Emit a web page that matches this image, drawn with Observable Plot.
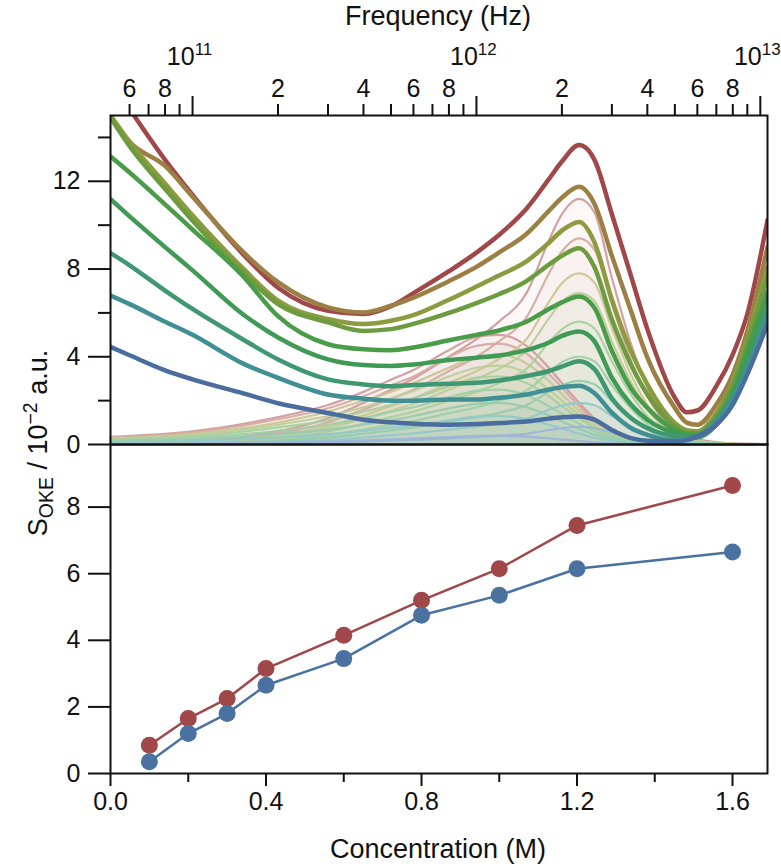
<!DOCTYPE html>
<html><head><meta charset="utf-8">
<script src="https://cdn.jsdelivr.net/npm/d3@7"></script>
<script src="https://cdn.jsdelivr.net/npm/@observablehq/plot@0.6"></script>
<style>
body{margin:0;background:#fff;}
#wrap{position:relative;width:781px;height:868px;font-family:"Liberation Sans",Arial,Helvetica,sans-serif;color:#111;overflow:hidden;}
#topc,#botc{position:absolute;left:0;}
#topc{top:0}
#botc{top:444px}
.lbl{position:absolute;font-size:27px;white-space:nowrap;transform:translate(-50%,-50%);}
#ytitle{transform:translate(-50%,-50%) rotate(-90deg);}
#ytitle sub,#ytitle sup{font-size:0.72em;line-height:0;}
</style></head><body>
<div id="wrap">
  <div id="topc"></div>
  <div id="botc"></div>
  <div class="lbl" style="left:438px;top:16px">Frequency (Hz)</div>
  <div class="lbl" style="left:438px;top:849px">Concentration (M)</div>
  <div class="lbl" id="ytitle" style="left:38px;top:443px">S<sub>OKE</sub> / 10<sup>−2</sup> a.u.</div>
</div>
<script>
// ---------- DATA ----------
const concLabels = ["0.1","0.2","0.3","0.4","0.6","0.8","1.0","1.2","1.6"];

// frequency grid (Hz) for the measured spectra
const freqGrid = [5.14e10, 6e10, 8e10, 1e11, 1.5e11, 2e11, 3e11, 4e11, 5e11, 6e11, 8e11, 1e12, 1.2e12, 1.5e12, 1.8e12, 2e12, 2.3e12, 2.6e12, 3e12, 3.5e12, 4e12, 5e12, 5.5e12, 6e12, 7e12, 8e12, 9e12, 1.06e13];

const spec_01 = [4.45, 4.07, 3.38, 2.97, 2.34, 1.88, 1.44, 1.13, 1.01, 0.95, 0.9, 0.93, 0.98, 1.05, 1.18, 1.24, 1.28, 1.13, 0.66, 0.29, 0.17, 0.14, 0.2, 0.37, 0.9, 1.82, 3.2, 5.5];
const spec_02 = [6.79, 6.4, 5.6, 5.0, 3.7, 3.04, 2.28, 2.09, 2.0, 2.0, 2.05, 2.05, 2.13, 2.28, 2.51, 2.61, 2.68, 2.35, 1.45, 0.75, 0.44, 0.21, 0.25, 0.37, 1.06, 2.13, 3.5, 5.8];
const spec_03 = [8.73, 8.17, 7.02, 6.18, 4.8, 3.88, 2.97, 2.74, 2.66, 2.71, 2.77, 2.81, 2.92, 3.12, 3.35, 3.55, 3.8, 3.45, 2.1, 1.21, 0.75, 0.37, 0.32, 0.32, 0.9, 2.05, 3.58, 6.25];
const spec_04 = [11.18, 10.4, 9.0, 7.94, 5.95, 4.88, 3.88, 3.62, 3.58, 3.65, 3.85, 3.96, 4.06, 4.3, 4.65, 4.95, 5.15, 4.72, 3.05, 1.82, 1.13, 0.52, 0.4, 0.37, 0.98, 2.2, 3.96, 6.71];
const spec_06 = [13.13, 12.4, 10.95, 9.8, 7.7, 5.85, 4.57, 4.34, 4.3, 4.42, 4.75, 5.0, 5.2, 5.6, 6.18, 6.48, 6.75, 6.25, 4.27, 2.58, 1.67, 0.67, 0.47, 0.44, 1.13, 2.43, 4.27, 6.94];
const spec_08 = [14.9, 13.6, 11.65, 10.2, 7.85, 6.4, 5.57, 5.18, 5.26, 5.5, 6.0, 6.45, 6.85, 7.45, 8.2, 8.6, 8.95, 8.1, 5.7, 3.65, 2.28, 0.83, 0.55, 0.52, 1.28, 2.66, 4.57, 7.63];
const spec_10 = [15.0, 13.8, 11.9, 10.45, 8.05, 6.56, 5.72, 5.49, 5.64, 5.9, 6.6, 7.2, 7.7, 8.35, 9.2, 9.75, 10.15, 9.24, 6.6, 4.27, 2.74, 0.98, 0.65, 0.6, 1.44, 2.89, 4.88, 8.09];
const spec_12 = [15.0, 13.8, 12.7, 11.3, 8.8, 7.4, 6.25, 6.02, 6.33, 6.7, 7.45, 8.1, 8.75, 9.6, 10.65, 11.25, 11.75, 10.99, 8.6, 6.1, 3.96, 1.67, 1.0, 0.9, 1.82, 3.2, 5.18, 9.0];
const spec_16 = [16.6, 15.3, 12.98, 11.38, 8.7, 7.15, 6.1, 5.95, 6.3, 6.9, 7.9, 8.75, 9.55, 10.75, 12.1, 12.9, 13.65, 13.0, 10.5, 7.7, 5.26, 2.13, 1.47, 1.55, 2.66, 4.11, 5.95, 10.23];

// frequency grid (Hz) for the fitted components
const compGrid = [5.14e10, 1e11, 2e11, 3e11, 4e11, 5e11, 6e11, 8e11, 1e12, 1.2e12, 1.5e12, 1.8e12, 2e12, 2.3e12, 2.6e12, 3e12, 3.5e12, 4e12, 5e12, 6e12, 8e12, 1.06e13];

// low-frequency components
const low_01 = [0.03, 0.05, 0.1, 0.14, 0.19, 0.24, 0.27, 0.34, 0.39, 0.4, 0.36, 0.28, 0.22, 0.15, 0.1, 0.05, 0.02, 0.01, 0, 0, 0, 0];
const low_02 = [0.09, 0.16, 0.33, 0.47, 0.62, 0.77, 0.88, 1.1, 1.27, 1.3, 1.17, 0.9, 0.73, 0.5, 0.31, 0.17, 0.08, 0.04, 0.01, 0, 0, 0];
const low_03 = [0.13, 0.23, 0.48, 0.68, 0.9, 1.1, 1.3, 1.65, 1.85, 1.9, 1.7, 1.33, 1.05, 0.72, 0.45, 0.25, 0.11, 0.06, 0.02, 0.01, 0, 0];
const low_04 = [0.18, 0.3, 0.62, 0.9, 1.2, 1.48, 1.7, 2.15, 2.45, 2.5, 2.25, 1.75, 1.4, 0.95, 0.6, 0.33, 0.15, 0.08, 0.03, 0.01, 0, 0];
const low_06 = [0.22, 0.37, 0.78, 1.1, 1.5, 1.8, 2.1, 2.65, 3.05, 3.1, 2.8, 2.2, 1.75, 1.2, 0.75, 0.4, 0.19, 0.09, 0.03, 0.01, 0, 0];
const low_08 = [0.25, 0.43, 0.9, 1.3, 1.7, 2.1, 2.45, 3.1, 3.5, 3.6, 3.25, 2.5, 2.0, 1.35, 0.85, 0.47, 0.22, 0.11, 0.04, 0.01, 0, 0];
const low_10 = [0.29, 0.49, 1.0, 1.5, 2.0, 2.4, 2.8, 3.5, 4.0, 4.1, 3.7, 2.9, 2.3, 1.55, 1.0, 0.53, 0.25, 0.12, 0.04, 0.02, 0.01, 0];
const low_12 = [0.32, 0.55, 1.15, 1.65, 2.2, 2.7, 3.1, 4.0, 4.5, 4.6, 4.15, 3.2, 2.6, 1.75, 1.1, 0.6, 0.28, 0.14, 0.05, 0.02, 0.01, 0];
const low_16 = [0.35, 0.6, 1.25, 1.8, 2.4, 2.95, 3.4, 4.3, 4.9, 5.0, 4.5, 3.5, 2.8, 1.9, 1.2, 0.65, 0.3, 0.15, 0.05, 0.02, 0.01, 0];

// high-frequency components
const high_01 = [0, 0.01, 0.04, 0.09, 0.13, 0.18, 0.21, 0.28, 0.34, 0.4, 0.49, 0.66, 0.75, 0.8, 0.75, 0.54, 0.33, 0.18, 0.05, 0.02, 0, 0];
const high_02 = [0.01, 0.03, 0.1, 0.2, 0.32, 0.43, 0.51, 0.68, 0.82, 0.95, 1.17, 1.58, 1.78, 1.9, 1.8, 1.3, 0.78, 0.44, 0.12, 0.04, 0.01, 0];
const high_03 = [0.01, 0.04, 0.16, 0.31, 0.49, 0.65, 0.78, 1.04, 1.25, 1.45, 1.8, 2.4, 2.7, 2.9, 2.75, 1.98, 1.2, 0.68, 0.18, 0.07, 0.01, 0];
const high_04 = [0.02, 0.05, 0.21, 0.43, 0.68, 0.9, 1.07, 1.43, 1.7, 2.0, 2.45, 3.3, 3.75, 4.0, 3.8, 2.7, 1.65, 0.93, 0.25, 0.09, 0.02, 0.01];
const high_06 = [0.03, 0.08, 0.3, 0.6, 0.95, 1.25, 1.5, 2.0, 2.4, 2.8, 3.45, 4.65, 5.25, 5.6, 5.3, 3.8, 2.3, 1.3, 0.35, 0.12, 0.03, 0.01];
const high_08 = [0.03, 0.09, 0.37, 0.74, 1.18, 1.55, 1.86, 2.5, 3.0, 3.45, 4.3, 5.75, 6.5, 6.9, 6.55, 4.7, 2.85, 1.6, 0.43, 0.15, 0.03, 0.01];
const high_10 = [0.04, 0.1, 0.42, 0.84, 1.33, 1.75, 2.1, 2.8, 3.35, 3.9, 4.8, 6.5, 7.35, 7.8, 7.4, 5.3, 3.2, 1.8, 0.5, 0.17, 0.03, 0.01];
const high_12 = [0.04, 0.13, 0.5, 1.0, 1.6, 2.1, 2.5, 3.35, 4.0, 4.7, 5.8, 7.8, 8.8, 9.4, 8.9, 6.4, 3.85, 2.2, 0.6, 0.2, 0.04, 0.02];
const high_16 = [0.05, 0.15, 0.6, 1.2, 1.9, 2.5, 3.0, 4.0, 4.8, 5.6, 6.9, 9.3, 10.5, 11.2, 10.6, 7.6, 4.6, 2.6, 0.7, 0.25, 0.05, 0.02];

// lower panel
const concValues = [0.1, 0.2, 0.3, 0.4, 0.6, 0.8, 1.0, 1.2, 1.6];
const redValues  = [0.85, 1.65, 2.25, 3.15, 4.15, 5.2, 6.15, 7.45, 8.65];
const blueValues = [0.35, 1.2, 1.8, 2.65, 3.45, 4.75, 5.35, 6.15, 6.65];

// ticks
const decadeTicks = [1e11, 1e12, 1e13];
const decadeLabels = ["10^11", "10^12", "10^13"];
const minorFreqTicks = [6e10, 7e10, 8e10, 9e10, 2e11, 3e11, 4e11, 5e11, 6e11, 7e11, 8e11, 9e11, 2e12, 3e12, 4e12, 5e12, 6e12, 7e12, 8e12, 9e12];
const minorFreqLabelTicks = [6e10, 8e10, 2e11, 4e11, 6e11, 8e11, 2e12, 4e12, 6e12, 8e12];
const minorFreqLabels = ["6", "8", "2", "4", "6", "8", "2", "4", "6", "8"];
const topYMajor = [0, 4, 8, 12];
const topYMinor = [2, 6, 10, 14];
const botXMajor = [0, 0.4, 0.8, 1.2, 1.6];
const botXMinor = [0.2, 0.6, 1.0, 1.4];
const botYMajor = [0, 2, 4, 6, 8];

// ---------- STYLES ----------
const thickColors = ["#4b6d9e", "#3f8f94", "#3f9872", "#3f9a55", "#4a9c48", "#6d9c40", "#8c9a40", "#9b7f44", "#a0474a"];
const thinColors  = ["#9db5d6", "#93c8c8", "#96cbb0", "#a0cfa6", "#abcf9d", "#bccf98", "#cbc695", "#d4aca2", "#d29c9f"];
const FONT = '"Liberation Sans", Arial, Helvetica, sans-serif';

// ---------- BUILD ----------
const specs = [spec_01, spec_02, spec_03, spec_04, spec_06, spec_08, spec_10, spec_12, spec_16];
const lows  = [low_01, low_02, low_03, low_04, low_06, low_08, low_10, low_12, low_16];
const highs = [high_01, high_02, high_03, high_04, high_06, high_08, high_10, high_12, high_16];

const toRows = (grid, vals) => grid.map((f, j) => ({f, v: vals[j]}));

const areaMarks = [], thinMarks = [], thickMarks = [];
for (let i = concLabels.length - 1; i >= 0; i--) {
  for (const comp of [lows[i], highs[i]]) {
    const rows = toRows(compGrid, comp);
    areaMarks.push(Plot.areaY(rows, {x: "f", y: "v", fill: thinColors[i], fillOpacity: 0.07, curve: "monotone-x"}));
    thinMarks.push(Plot.line(rows, {x: "f", y: "v", stroke: thinColors[i], strokeWidth: 2.2, strokeOpacity: 0.95, curve: "monotone-x"}));
  }
}
for (let i = concLabels.length - 1; i >= 0; i--) {
  thickMarks.push(Plot.line(toRows(freqGrid, specs[i]), {x: "f", y: "v", stroke: thickColors[i], strokeWidth: 4.5, curve: "monotone-x", clip: true}));
}

const topPlot = Plot.plot({
  width: 781, height: 445,
  marginTop: 115, marginBottom: 1, marginLeft: 110, marginRight: 14,
  x: {type: "log", domain: [5.14e10, 1.06e13], axis: null, label: null},
  y: {domain: [0, 15], axis: null, label: null},
  style: {fontFamily: FONT, fontSize: "25px", color: "#111", background: "transparent", overflow: "visible"},
  marks: [
    ...areaMarks,
    ...thinMarks,
    ...thickMarks,
    Plot.axisX(minorFreqTicks, {anchor: "top", tickSize: 12, tickFormat: () => "", label: null, strokeWidth: 2}),
    Plot.axisX(decadeTicks, {anchor: "top", tickSize: 20, tickFormat: () => "", label: null, strokeWidth: 2}),
    Plot.text(minorFreqLabelTicks, {x: d => d, text: (d, i) => minorFreqLabels[i], frameAnchor: "top", lineAnchor: "middle", dy: -27, fontSize: 25, fill: "#111"}),
    Plot.text(decadeTicks, {x: d => d, text: (d, i) => decadeLabels[i], frameAnchor: "top", lineAnchor: "middle", dy: -59, dx: -3, fontSize: 25, fill: "#111"}),
    Plot.axisY(topYMajor, {anchor: "left", tickSize: 22, tickPadding: 8, label: null, strokeWidth: 2, fontSize: 25}),
    Plot.axisY(topYMinor, {anchor: "left", tickSize: 12, tickFormat: () => "", label: null, strokeWidth: 2}),
    Plot.frame({stroke: "#111", strokeWidth: 2})
  ]
});

const botPlot = Plot.plot({
  width: 781, height: 424,
  marginTop: 0, marginBottom: 95, marginLeft: 110, marginRight: 14,
  x: {domain: [0, 1.69], axis: null, label: null},
  y: {domain: [0, 9.88], axis: null, label: null},
  style: {fontFamily: FONT, fontSize: "25px", color: "#111", background: "transparent", overflow: "visible"},
  marks: [
    Plot.line(concValues, {x: d => d, y: (d, i) => redValues[i], stroke: "#a0474a", strokeWidth: 2.5}),
    Plot.line(concValues, {x: d => d, y: (d, i) => blueValues[i], stroke: "#4a72a0", strokeWidth: 2.5}),
    Plot.dot(concValues, {x: d => d, y: (d, i) => redValues[i], r: 8.5, fill: "#a0474a"}),
    Plot.dot(concValues, {x: d => d, y: (d, i) => blueValues[i], r: 8.5, fill: "#4a72a0"}),
    Plot.axisX(botXMajor, {anchor: "bottom", tickSize: 13, tickPadding: 6, tickFormat: d3.format(".1f"), label: null, strokeWidth: 2, fontSize: 25}),
    Plot.axisX(botXMinor, {anchor: "bottom", tickSize: 9, tickFormat: () => "", label: null, strokeWidth: 2}),
    Plot.axisY(botYMajor, {anchor: "left", tickSize: 22, tickPadding: 8, label: null, strokeWidth: 2, fontSize: 25}),
    Plot.frame({stroke: "#111", strokeWidth: 2})
  ]
});

document.getElementById("topc").appendChild(topPlot);
document.getElementById("botc").appendChild(botPlot);

// superscript exponents on decade labels
d3.select(topPlot).selectAll("text").each(function () {
  const m = /^10\^(\d+)$/.exec(this.textContent);
  if (m) {
    const el = d3.select(this);
    el.text("10");
    el.append("tspan").attr("dy", "-0.55em").attr("font-size", "0.68em").text(m[1]);
  }
});
</script>
</body></html>
